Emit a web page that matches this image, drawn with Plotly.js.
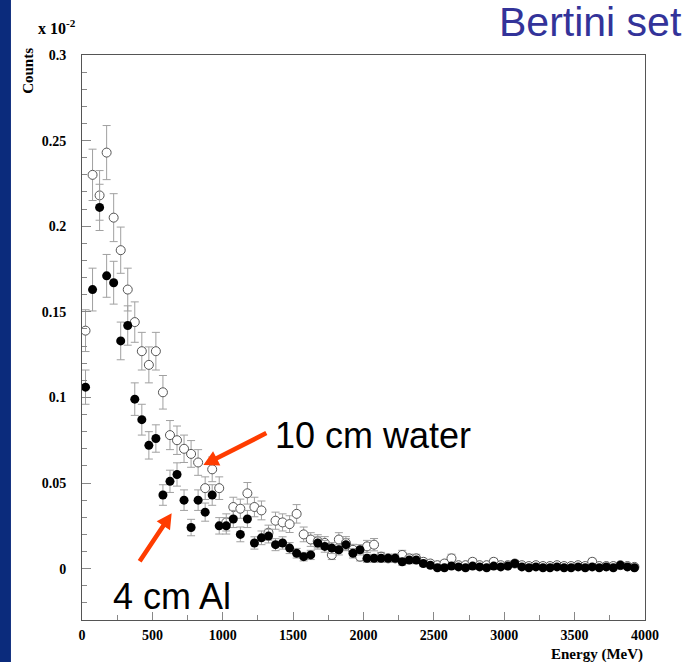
<!DOCTYPE html>
<html>
<head>
<meta charset="utf-8">
<script src="https://cdn.plot.ly/plotly-3.0.1.min.js"></script>
<style>
  html, body { margin: 0; padding: 0; background: #ffffff; }
  #chart { width: 694px; height: 662px; }
</style>
</head>
<body>
<div id="chart"></div>
<script>
// Bin centres (MeV)
const energy = [25,75,125,175,225,275,325,375,425,475,525,575,625,675,725,775,825,875,925,975,
  1025,1075,1125,1175,1225,1275,1325,1375,1425,1475,1525,1575,1625,1675,1725,1775,1825,1875,1925,1975,
  2025,2075,2125,2175,2225,2275,2325,2375,2425,2475,2525,2575,2625,2675,2725,2775,2825,2875,2925,2975,
  3025,3075,3125,3175,3225,3275,3325,3375,3425,3475,3525,3575,3625,3675,3725,3775,3825,3875,3925];

// 4 cm Al (filled circles), counts in units of 10^-2
const countsAl = [0.106,0.163,0.211,0.171,0.167,0.133,0.142,0.099,0.087,0.072,0.076,0.043,0.051,0.055,0.040,0.024,0.040,0.033,0.043,0.025,
  0.025,0.029,0.020,0.029,0.015,0.018,0.019,0.014,0.015,0.012,0.009,0.007,0.008,0.015,0.013,0.012,0.011,0.014,0.009,0.011,
  0.006,0.006,0.006,0.006,0.006,0.004,0.005,0.005,0.003,0.002,0.0005,0.0005,0.0015,0.001,0.0005,0.0015,0.001,0.0005,0.0015,0.001,
  0.0015,0.003,0.001,0.0005,0.001,0.0005,0.0005,0.001,0.0005,0.0005,0.001,0.0005,0.001,0.0005,0.001,0.0005,0.002,0.001,0.0005];
const errAl = [0.010,0.0125,0.0135,0.0125,0.0125,0.011,0.0115,0.0095,0.009,0.008,0.008,0.006,0.0065,0.0068,0.006,0.0048,0.006,0.0053,0.006,0.0048,
  0.0048,0.005,0.0043,0.005,0.0036,0.004,0.004,0.0035,0.0036,0.0032,0.0028,0.0025,0.0027,0.0036,0.0034,0.0032,0.003,0.0035,0.0028,0.003,
  0.0023,0.0023,0.0023,0.0023,0.0023,0.002,0.0021,0.0021,0.0018,0.0015,0.0011,0.0011,0.0013,0.0012,0.0011,0.0013,0.0012,0.0011,0.0013,0.0012,
  0.0013,0.0018,0.0012,0.0011,0.0012,0.0011,0.0011,0.0012,0.0011,0.0011,0.0012,0.0011,0.0012,0.0011,0.0012,0.0011,0.0015,0.0012,0.0011];

// 10 cm water (open circles), counts in units of 10^-2
const countsWater = [0.139,0.230,0.218,0.243,0.205,0.186,0.163,0.144,0.127,0.119,0.127,0.103,0.078,0.075,0.070,0.067,0.062,0.047,0.058,0.047,
  0.027,0.036,0.035,0.044,0.036,0.034,0.021,0.028,0.027,0.026,0.032,0.020,0.017,0.016,0.015,0.008,0.017,0.015,0.011,0.007,
  0.013,0.014,0.007,0.006,0.006,0.008,0.006,0.006,0.004,0.003,0.002,0.003,0.006,0.002,0.002,0.004,0.002,0.002,0.004,0.002,
  0.002,0.003,0.002,0.0015,0.002,0.0015,0.0015,0.002,0.0015,0.0015,0.002,0.0015,0.004,0.0015,0.0015,0.0015,0.002,0.0015,0.001];
const errWater = [0.0122,0.015,0.0145,0.0158,0.014,0.0135,0.0125,0.0118,0.011,0.0105,0.011,0.0098,0.0085,0.0083,0.008,0.0078,0.0075,0.0066,0.0072,0.0066,
  0.005,0.0057,0.0056,0.0063,0.0057,0.0055,0.0044,0.005,0.005,0.0049,0.0054,0.0043,0.004,0.0038,0.0037,0.0027,0.004,0.0037,0.0032,0.0025,
  0.0035,0.0036,0.0025,0.0024,0.0024,0.0027,0.0024,0.0024,0.002,0.0018,0.0015,0.0018,0.0024,0.0015,0.0015,0.002,0.0015,0.0015,0.002,0.0015,
  0.0015,0.0018,0.0015,0.0013,0.0015,0.0013,0.0013,0.0015,0.0013,0.0013,0.0015,0.0013,0.002,0.0013,0.0013,0.0013,0.0015,0.0013,0.0012];

// Tick labels
const xTickVals = [0,500,1000,1500,2000,2500,3000,3500,4000];
const xTickText = ['0','500','1000','1500','2000','2500','3000','3500','4000'];
const yTickVals = [0,0.05,0.1,0.15,0.2,0.25,0.3];
const yTickText = ['0','0.05','0.1','0.15','0.2','0.25','0.3'];

const serifBold = {family: 'Liberation Serif, Times New Roman, serif', size: 14, color: '#000000', weight: 'bold'};

const traceWater = {
  x: energy, y: countsWater, type: 'scatter', mode: 'markers', name: '10 cm water',
  marker: {symbol: 'circle', size: 9, color: '#ffffff', line: {color: '#555555', width: 1}},
  error_y: {type: 'data', array: errWater, visible: true, color: '#a0a0a0', thickness: 1, width: 4},
  hoverinfo: 'skip'
};
const traceAl = {
  x: energy, y: countsAl, type: 'scatter', mode: 'markers', name: '4 cm Al',
  marker: {symbol: 'circle', size: 9, color: '#000000', line: {color: '#000000', width: 0}},
  error_y: {type: 'data', array: errAl, visible: true, color: '#a0a0a0', thickness: 1, width: 4},
  hoverinfo: 'skip'
};

const arrowColor = '#ff3c00';

const layout = {
  width: 694, height: 662,
  margin: {l: 82, r: 49, t: 55, b: 42, pad: 0},
  paper_bgcolor: '#ffffff', plot_bgcolor: '#ffffff',
  showlegend: false,
  xaxis: {
    range: [0, 4000], showgrid: false, zeroline: false,
    showline: true, linecolor: '#555555', linewidth: 1, mirror: true,
    ticks: 'inside', ticklen: 8, tickcolor: '#888888', tickwidth: 1,
    tickmode: 'array', tickvals: xTickVals, ticktext: xTickText,
    tickfont: serifBold, ticklabelstandoff: 2,
    minor: {tickmode: 'linear', tick0: 0, dtick: 250, ticks: 'inside', ticklen: 5, tickcolor: '#888888'}
  },
  yaxis: {
    range: [-0.03, 0.3], showgrid: false, zeroline: false,
    showline: true, linecolor: '#555555', linewidth: 1, mirror: true,
    ticks: 'inside', ticklen: 9, tickcolor: '#888888', tickwidth: 1,
    tickmode: 'array', tickvals: yTickVals, ticktext: yTickText,
    tickfont: serifBold, ticklabelstandoff: 12,
    minor: {tickmode: 'linear', tick0: 0, dtick: 0.01, ticks: 'inside', ticklen: 5, tickcolor: '#888888'}
  },
  shapes: [
    {type: 'rect', xref: 'paper', yref: 'paper', x0: -0.1457, x1: -0.1262, y0: -0.08, y1: 1.10,
     fillcolor: '#0b2b7c', line: {width: 0}, layer: 'below'},
    // arrow to "10 cm water" curve (pixel offsets from the tip)
    {type: 'path', xref: 'x', yref: 'y', xsizemode: 'pixel', ysizemode: 'pixel',
     xanchor: 862, yanchor: 0.0605,
     path: 'M0,0 L16.99,-0.34 L14.41,4.74 L64.04,29.95 L61.96,34.05 L12.33,8.84 L9.75,13.92 Z',
     fillcolor: arrowColor, line: {width: 0}, layer: 'above'},
    // arrow to "4 cm Al" curve
    {type: 'path', xref: 'x', yref: 'y', xsizemode: 'pixel', ysizemode: 'pixel',
     xanchor: 637, yanchor: 0.0323,
     path: 'M0,0 L-1.66,-16.92 L-6.41,-13.76 L-30.09,-49.28 L-33.91,-46.72 L-10.23,-11.2 L-14.98,-8.04 Z',
     fillcolor: arrowColor, line: {width: 0}, layer: 'above'}
  ],
  annotations: [
    {xref: 'paper', yref: 'paper', x: 1.0693, y: 1.058, xanchor: 'right', yanchor: 'middle',
     text: 'Bertini set', showarrow: false,
     font: {family: 'Liberation Sans, Arial, sans-serif', size: 41, color: '#333399'}},
    {xref: 'paper', yref: 'paper', x: -0.0959, y: 0.972, xanchor: 'center', yanchor: 'middle',
     text: 'Counts', textangle: -90, showarrow: false,
     font: {family: 'Liberation Serif, Times New Roman, serif', size: 15, color: '#000000', weight: 'bold'}},
    {xref: 'paper', yref: 'paper', x: -0.0817, y: 1.050, xanchor: 'left', yanchor: 'middle',
     text: 'x 10<sup>-2</sup>', showarrow: false,
     font: {family: 'Liberation Serif, Times New Roman, serif', size: 16, color: '#000000', weight: 'bold'}},
    {xref: 'paper', yref: 'paper', x: 1.0, y: -0.0619, xanchor: 'right', yanchor: 'middle',
     text: 'Energy (MeV)', showarrow: false,
     font: {family: 'Liberation Serif, Times New Roman, serif', size: 15, color: '#000000', weight: 'bold'}},
    {xref: 'x', yref: 'y', x: 1357, y: 0.078, xanchor: 'left', yanchor: 'middle',
     text: '10 cm water', showarrow: false,
     font: {family: 'Liberation Sans, Arial, sans-serif', size: 36, color: '#000000'}},
    {xref: 'x', yref: 'y', x: 205, y: -0.016, xanchor: 'left', yanchor: 'middle',
     text: '4 cm Al', showarrow: false,
     font: {family: 'Liberation Sans, Arial, sans-serif', size: 36, color: '#000000'}}
  ]
};

Plotly.newPlot('chart', [traceWater, traceAl], layout, {staticPlot: true, displayModeBar: false});
</script>
</body>
</html>
